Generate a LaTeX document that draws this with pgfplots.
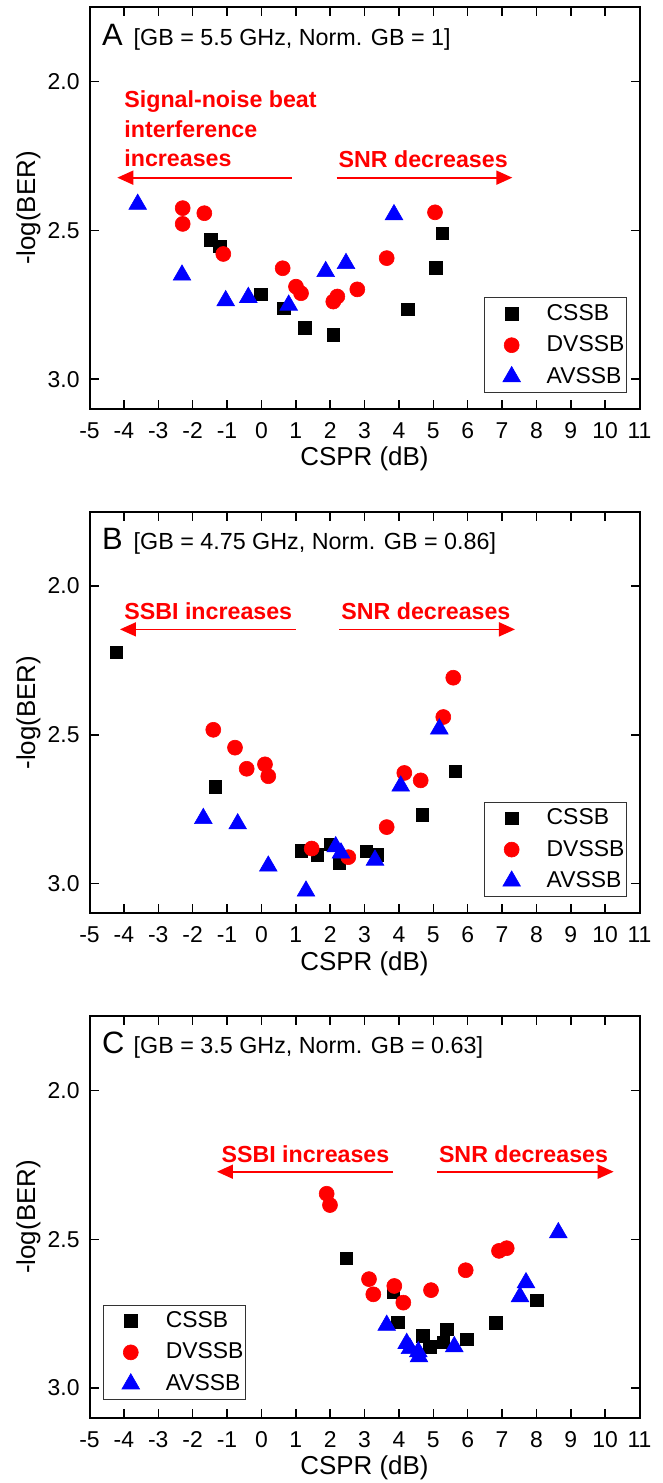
\documentclass[border=0pt]{standalone}
\usepackage{fontspec}
\setmainfont{Liberation Sans}
\usepackage{pgfplots}
\pgfplotsset{compat=1.18}
\usetikzlibrary{arrows.meta}

\definecolor{dvred}{RGB}{255,0,0}
\definecolor{avblue}{RGB}{0,0,255}

\pgfplotsset{
  cspr/.style={
    scale only axis, width=275bp, height=200.85bp,
    xmin=-5, xmax=11, ymin=1.75, ymax=3.1, y dir=reverse,
    xtick={-5,...,11},
    xticklabels={-5,-4,-3,-2,-1,0,1,2,3,4,5,6,7,8,9,10,11},
    ytick={2.0,2.5,3.0}, yticklabels={2.0,2.5,3.0},
    tick align=inside, major tick length=4.5bp,
    axis line style={line width=1bp},
    every tick/.style={black, line width=0.75bp},
    tick label style={font=\fontsize{11.5}{13}\selectfont},
    xticklabel style={anchor=center, yshift=-10.75bp},
    yticklabel style={inner sep=0bp, xshift=-4.75bp},
    xlabel={CSPR (dB)}, ylabel={-log(BER)},
    label style={font=\fontsize{13}{15}\selectfont},
    xlabel style={at={(axis description cs:0.5,-0.1245)}, anchor=center},
    ylabel style={at={(axis description cs:-0.1109,0.5)}, anchor=center},
    legend cell align=left,
    % fixed, symmetric (invisible) cell for every legend symbol
    legend image code/.code={%
      \path[draw=none, fill=none] (-12.65bp,-4.2bp) rectangle (17.5bp,4.2bp);
      \pgfinterruptboundingbox
      \draw[##1] plot coordinates {(0bp,0bp)};
      \endpgfinterruptboundingbox},
    legend style={draw=black!80, line width=0.5bp, fill=white,
      inner xsep=1bp, inner ysep=0bp, row sep=0bp,
      font=\fontsize{11.5}{13}\selectfont,
      nodes={inner xsep=0bp, inner ysep=3.125bp}},
  },
  cssb/.style={only marks, mark=square*, mark size=3.1bp, black, mark options={line width=0.3bp}},
  dvssb/.style={only marks, mark=*, mark size=3.75bp, dvred, mark options={line width=0.3bp}},
  avssb/.style={only marks, mark=triangle*, mark size=5.1bp, avblue, mark options={line width=0.3bp}},
}
\tikzset{
  note/.style={dvred, anchor=base west, inner sep=0bp, font=\bfseries\fontsize{11.65}{14}\selectfont},
  trend/.style={dvred, line width=0.85bp, -{Triangle[length=8bp,width=7bp]}},
  tag/.style={anchor=base west, inner sep=0bp, font=\fontsize{15.5}{18}\selectfont},
  cond/.style={anchor=base west, inner sep=0bp, font=\fontsize{11.7}{14}\selectfont},
}

\begin{document}
\begin{tikzpicture}
\path[use as bounding box] (0,0) rectangle (331.5bp,741.5bp);

% ---------------- (A) GB = 5.5 GHz ----------------
\begin{axis}[cspr, at={(44.75bp,737.85bp)}, anchor=north west,
  legend style={at={(0.977,0.04)}, anchor=south east}]
\addplot[cssb] coordinates {
 (-1.474,2.532) (-1.204,2.554) (-0.020,2.714) (0.658,2.761) (1.269,2.827)
 (2.084,2.851) (4.257,2.765) (5.071,2.625) (5.263,2.509)};
\addplot[dvssb] coordinates {
 (-2.289,2.425) (-2.289,2.478) (-1.660,2.442) (-1.108,2.579) (0.620,2.627)
 (1.007,2.689) (1.153,2.711) (2.092,2.739) (2.209,2.722) (2.791,2.698)
 (3.646,2.593) (5.051,2.439)};
\addplot[avssb] coordinates {
 (-3.598,2.412) (-2.309,2.650) (-1.038,2.736) (-0.380,2.725) (0.795,2.751)
 (1.871,2.638) (2.462,2.611) (3.858,2.447)};
\legend{CSSB,DVSSB,AVSSB}
\node[tag] at (axis description cs:0.0222,0.906) {A};
\node[cond] at (axis description cs:0.0796,0.906) {[GB = 5.5 GHz, Norm. GB = 1]};
\node[note] at (axis cs:-3.996,2.086) {Signal-noise beat};
\node[note] at (axis cs:-3.996,2.188) {interference};
\node[note] at (axis cs:-3.996,2.286) {increases};
\node[note] at (axis cs:2.238,2.288) {SNR decreases};
\draw[trend] (axis cs:0.882,2.3226) -- (axis cs:-4.191,2.3226);
\draw[trend] (axis cs:2.191,2.3226) -- (axis cs:7.300,2.3226);
\end{axis}

% ---------------- (B) GB = 4.75 GHz ----------------
\begin{axis}[cspr, at={(44.75bp,485.65bp)}, anchor=north west,
  legend style={at={(0.977,0.04)}, anchor=south east}]
\addplot[cssb] coordinates {
 (-4.229,2.222) (-1.349,2.675) (1.153,2.890) (1.633,2.903) (2.011,2.868)
 (2.264,2.931) (3.044,2.891) (3.355,2.903) (4.681,2.768) (5.633,2.622)};
\addplot[dvssb] coordinates {
 (-1.399,2.483) (-0.767,2.543) (-0.427,2.614) (0.105,2.599) (0.201,2.639)
 (1.464,2.882) (2.529,2.911) (3.646,2.810) (4.158,2.628) (4.635,2.653)
 (5.292,2.440) (5.583,2.308)};
\addplot[avssb] coordinates {
 (-1.689,2.781) (-0.689,2.799) (0.201,2.941) (1.298,3.025) (2.162,2.876)
 (2.316,2.897) (3.305,2.921) (4.053,2.672) (5.176,2.480)};
\legend{CSSB,DVSSB,AVSSB}
\node[tag] at (axis description cs:0.0222,0.906) {B};
\node[cond] at (axis description cs:0.0796,0.906) {[GB = 4.75 GHz, Norm. GB = 0.86]};
\node[note] at (axis cs:-3.996,2.113) {SSBI increases};
\node[note] at (axis cs:2.316,2.113) {SNR decreases};
\draw[trend] (axis cs:0.998,2.1455) -- (axis cs:-4.113,2.1455);
\draw[trend] (axis cs:2.267,2.1455) -- (axis cs:7.378,2.1455);
\end{axis}

% ---------------- (C) GB = 3.5 GHz ----------------
\begin{axis}[cspr, at={(44.75bp,233.45bp)}, anchor=north west,
  legend style={at={(0.0245,0.044)}, anchor=south west}]
\addplot[cssb] coordinates {
 (2.462,2.564) (3.838,2.676) (3.966,2.780) (4.693,2.825) (4.905,2.861)
 (5.292,2.847) (5.391,2.802) (5.973,2.836) (6.825,2.781) (8.009,2.705)};
\addplot[dvssb] coordinates {
 (1.900,2.347) (1.996,2.385) (3.131,2.634) (3.256,2.685) (3.867,2.657)
 (4.129,2.713) (4.935,2.671) (5.944,2.604) (6.913,2.539) (7.137,2.530)};
\addplot[avssb] coordinates {
 (3.646,2.789) (4.228,2.850) (4.324,2.867) (4.565,2.878) (4.585,2.895)
 (5.612,2.861) (7.524,2.693) (7.698,2.646) (8.638,2.478)};
\legend{CSSB,DVSSB,AVSSB}
\node[tag] at (axis description cs:0.0222,0.906) {C};
\node[cond] at (axis description cs:0.0796,0.906) {[GB = 3.5 GHz, Norm. GB = 0.63]};
\node[note] at (axis cs:-1.169,2.241) {SSBI increases};
\node[note] at (axis cs:5.156,2.241) {SNR decreases};
\draw[trend] (axis cs:3.835,2.273) -- (axis cs:-1.291,2.273);
\draw[trend] (axis cs:5.118,2.273) -- (axis cs:10.247,2.273);
\end{axis}
\end{tikzpicture}
\end{document}
